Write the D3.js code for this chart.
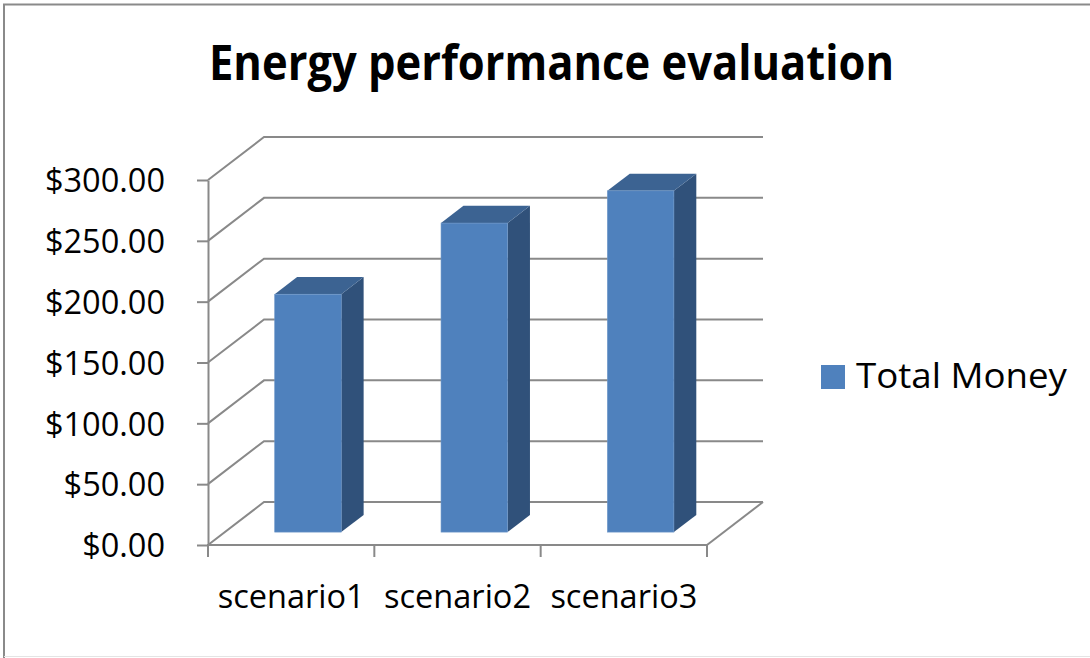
<!DOCTYPE html>
<html>
<head>
<meta charset="utf-8">
<script src="https://cdn.jsdelivr.net/npm/d3@7/dist/d3.min.js"></script>
<style>
  html, body { margin: 0; padding: 0; background: #fff; }
  svg { display: block; }
  text { font-family: "Open Sans", "Noto Sans", sans-serif; fill: #000; }
</style>
</head>
<body>
<svg id="chart" width="1090" height="658"></svg>
<script>
// Chart data
const chartTitle = "Energy performance evaluation";
const categories = ["scenario1", "scenario2", "scenario3"];
const seriesName = "Total Money";
const totalMoney = [195.5, 254, 280.5];
const yTickValues = [0, 50, 100, 150, 200, 250, 300];
const yTickLabels = ["$0.00", "$50.00", "$100.00", "$150.00", "$200.00", "$250.00", "$300.00"];

const W = 1090, H = 658;
const svg = d3.select("#chart");

// Colours
const gridColor = "#898989";
const frontColor = "#4F81BD";
const topColor = "#3C6392";
const sideColor = "#30517A";

// Front plane scales
const y = d3.scaleLinear().domain([0, 300]).range([545, 180]);
const x = d3.scaleBand().domain(categories).range([208, 707]).paddingInner(0).paddingOuter(0);

// Depth projection: a point at depth fraction d shifts by (d*DX, d*DY)
const DX = 56, DY = -43;
const proj = (px, py, d) => [px + d * DX, py + d * DY];

// Frame
svg.append("path")
  .attr("d", `M4,${H + 2} L4,4.5 L${W + 2},4.5`)
  .attr("fill", "none").attr("stroke", "#8a8a8a").attr("stroke-width", 2);
svg.append("line")
  .attr("x1", 4).attr("x2", W).attr("y1", H - 1.5).attr("y2", H - 1.5)
  .attr("stroke", "#e4e4e4").attr("stroke-width", 1);

// Title
svg.append("text")
  .attr("x", 551.5).attr("y", 80)
  .attr("text-anchor", "middle")
  .attr("font-size", 49).attr("font-weight", 700)
  .attr("textLength", 685).attr("lengthAdjust", "spacingAndGlyphs")
  .text(chartTitle);

// Gridlines: side wall diagonals and back wall horizontals
const grid = svg.append("g").attr("stroke", gridColor).attr("stroke-width", 2).attr("fill", "none");
const x0 = x.range()[0], x1 = x.range()[1];
yTickValues.forEach(v => {
  const a = [x0, y(v)];
  const b = proj(x0, y(v), 1);
  const c = proj(x1, y(v), 1);
  grid.append("path").attr("d", `M${a[0]},${a[1]} L${b[0]},${b[1]} L${c[0]},${c[1]}`);
});
// Floor right edge
{
  const a = [x1, y(0)];
  const b = proj(x1, y(0), 1);
  grid.append("line").attr("x1", a[0]).attr("y1", a[1]).attr("x2", b[0]).attr("y2", b[1]);
}

// Value axis
const yAxis = d3.axisLeft(y)
  .tickValues(yTickValues)
  .tickFormat((d, i) => yTickLabels[i])
  .tickSizeInner(11).tickSizeOuter(0).tickPadding(32);
const yg = svg.append("g").attr("transform", `translate(${x0},0)`).call(yAxis);
yg.select(".domain").attr("stroke", gridColor).attr("stroke-width", 2);
yg.selectAll(".tick line").attr("stroke", gridColor).attr("stroke-width", 2);
yg.selectAll(".tick text")
  .attr("font-size", 32.5).attr("font-family", "Open Sans, sans-serif")
  .attr("fill", "#000").attr("dy", "0.36em");

// Category axis
const xAxis = d3.axisBottom(x).tickSize(0).tickPadding(40);
const xg = svg.append("g").attr("transform", `translate(0,${y(0)})`).call(xAxis);
xg.select(".domain").remove();
xg.selectAll(".tick text")
  .attr("font-size", 32.5).attr("font-family", "Open Sans, sans-serif")
  .attr("fill", "#000").attr("dy", "0.71em");
svg.append("line")
  .attr("x1", x0 - 1).attr("x2", x1 + 1).attr("y1", y(0)).attr("y2", y(0))
  .attr("stroke", gridColor).attr("stroke-width", 2);
const edges = categories.map(c => x(c)).concat([x1]);
svg.append("g").selectAll("line").data(edges).join("line")
  .attr("x1", d => d).attr("x2", d => d)
  .attr("y1", y(0)).attr("y2", y(0) + 12)
  .attr("stroke", gridColor).attr("stroke-width", 2);

// 3D columns
const gap = 1.5;                       // gap width 150%
const barW = x.bandwidth() / (1 + gap);
const dFront = 0.3, dBack = 0.7;       // column depth within the floor
const bars = svg.append("g");
categories.forEach((c, i) => {
  const v = totalMoney[i];
  const left = x(c) + (x.bandwidth() - barW) / 2;
  const right = left + barW;
  const [fl, fb] = proj(left, y(0), dFront);
  const [fr] = proj(right, y(0), dFront);
  const [, ft] = proj(left, y(v), dFront);
  const [bl, bt] = proj(left, y(v), dBack);
  const [br] = proj(right, y(v), dBack);
  const [, bb] = proj(right, y(0), dBack);
  // side face
  bars.append("path")
    .attr("d", `M${fr},${ft} L${br},${bt} L${br},${bb} L${fr},${fb} Z`)
    .attr("fill", sideColor);
  // top face
  bars.append("path")
    .attr("d", `M${fl},${ft} L${bl},${bt} L${br},${bt} L${fr},${ft} Z`)
    .attr("fill", topColor);
  // front face
  bars.append("rect")
    .attr("x", fl).attr("y", ft).attr("width", fr - fl).attr("height", fb - ft)
    .attr("fill", frontColor)
    .attr("stroke", "#6d96c8").attr("stroke-width", 0.6);
});

// Legend
const legend = svg.append("g");
legend.append("rect")
  .attr("x", 821).attr("y", 365).attr("width", 24).attr("height", 24)
  .attr("fill", frontColor);
legend.append("text")
  .attr("x", 856).attr("y", 388)
  .attr("font-size", 35)
  .attr("textLength", 211).attr("lengthAdjust", "spacingAndGlyphs")
  .text(seriesName);
</script>
</body>
</html>
